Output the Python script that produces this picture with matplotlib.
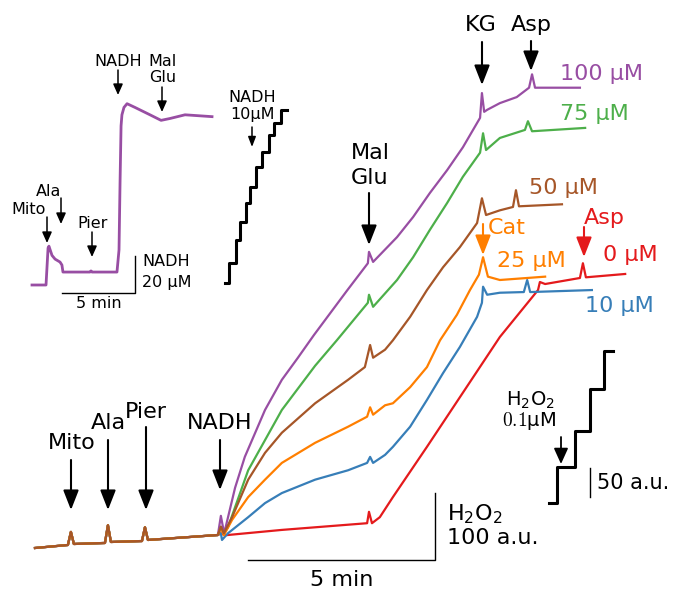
import numpy as np
import matplotlib.pyplot as plt

W, H = 673, 592

# colours of the titration series (Set1)
c_purple, c_green, c_brown = '#984ea3', '#4daf4a', '#a65628'
c_orange, c_blue, c_red = '#ff7f00', '#377eb8', '#e41a1c'

# ---- main H2O2 traces: time (min), signal (a.u.) ----
t_pre = [0.0, 0.88, 0.96, 1.04, 1.87, 1.95, 2.03, 2.86, 2.94, 3.02, 4.89]
s_pre = [0, 4.5, 24, 6, 7.5, 34, 9, 10.4, 31, 12, 19.4]

t_100 = [4.97, 5.05, 5.08, 5.35, 5.61, 6.15, 6.60, 7.03, 7.46, 8.34, 8.90, 8.93,
         9.04, 9.68, 10.11, 10.56, 11.02, 11.44, 11.90, 11.95, 12.01, 12.09,
         12.43, 12.88, 13.21, 13.29, 13.37, 14.57]
s_100 = [48, 24, 27, 90, 136, 206, 251, 284, 318, 384, 425, 442,
         427, 464, 494, 530, 564, 598, 642, 679, 651, 654,
         664, 673, 687, 707, 687, 687]

t_75 = [4.97, 5.05, 5.16, 5.70, 6.15, 6.60, 7.49, 8.07, 8.90, 8.93, 9.04, 9.68,
        10.11, 10.56, 11.02, 11.44, 11.90, 11.98, 12.06, 12.43, 13.10, 13.18,
        13.29, 14.71]
s_75 = [30, 22, 31, 116, 161, 206, 272, 310, 366, 378, 360, 400,
        434, 475, 515, 554, 590, 619, 594, 612, 624, 637,
        622, 627]

t_50 = [4.97, 5.05, 5.27, 5.70, 6.15, 6.60, 7.49, 8.37, 8.82, 8.96, 9.04, 9.36,
        9.57, 10.03, 10.48, 10.91, 11.36, 11.82, 11.95, 12.06, 12.43, 12.78,
        12.86, 12.94, 14.09]
s_50 = [32, 22, 46, 102, 142, 172, 216, 251, 270, 303, 284, 296,
        310, 345, 385, 419, 449, 485, 522, 497, 504, 509,
        534, 510, 513]

t_25 = [4.97, 5.05, 5.27, 5.70, 6.15, 6.60, 7.49, 8.37, 8.88, 8.96, 9.04, 9.36,
        9.57, 10.03, 10.48, 10.83, 11.28, 11.63, 11.87, 11.98, 12.11, 12.43,
        13.64]
s_25 = [30, 19, 42, 76, 102, 127, 157, 181, 196, 210, 199, 213,
        216, 240, 270, 310, 348, 385, 408, 434, 405, 400,
        405]

t_10 = [4.97, 5.00, 5.16, 5.70, 6.15, 6.60, 7.49, 8.37, 8.88, 8.96, 9.04, 9.36,
        9.57, 10.03, 10.48, 10.91, 11.36, 11.82, 11.95, 11.98, 12.09, 12.43,
        13.07, 13.16, 13.24, 14.89]
s_10 = [22, 12, 22, 46, 67, 82, 102, 116, 127, 136, 127, 139,
        151, 181, 221, 261, 300, 345, 366, 390, 378, 381,
        382, 400, 382, 385]

t_0 = [4.97, 5.08, 6.60, 8.88, 8.93, 9.01, 9.22, 9.57, 10.48, 11.36, 12.43,
       13.45, 13.50, 13.64, 14.57, 14.65, 14.73, 15.78]
s_0 = [22, 19, 27, 37, 54, 37, 46, 76, 151, 225, 315,
       385, 397, 394, 403, 425, 404, 409]

# ---- inset: NADH fluorescence, time (min) and NADH (uM) ----
u_nadh = [0, 0.96, 1.10, 1.16, 1.37, 1.58, 1.92, 2.05, 2.12, 3.97, 4.04, 4.11,
          5.82, 5.96, 6.03, 6.10, 6.16, 6.30, 6.51, 7.05, 8.08, 8.84, 9.45,
          10.48, 12.33]
n_nadh = [0, 0, 20, 21, 16, 14, 12.4, 10.8, 7.0, 7.0, 7.6, 7.0,
          7.0, 19, 55, 86, 92, 96, 98, 96, 92, 89, 90, 92, 91]

# NADH calibration, 10 uM additions
u_cal = [13.22, 13.49, 13.97, 14.25, 14.66, 14.93, 15.34, 15.75, 16.23, 16.58,
         17.05, 17.47]
n_cal = [1.1, 11.9, 24.3, 34.1, 44.3, 53.0, 63.8, 71.9, 81.0, 87.6, 94.6, 94.6]

# H2O2 calibration, 0.1 uM additions (a.u.)
t_h2o2 = [13.74, 13.96, 14.44, 14.84, 15.21, 15.45]
h_h2o2 = [0, 62, 124, 197, 262, 262]

fig = plt.figure(figsize=(W / 100, H / 100), dpi=100)


def full_axes(x0, x1, y0, y1):
    a = fig.add_axes([0, 0, 1, 1])
    a.set_xlim(x0, x1)
    a.set_ylim(y0, y1)
    a.axis('off')
    a.patch.set_alpha(0)
    return a


# main axes: 37.4 px per min, 0.67 px per a.u.
ax = full_axes(-35 / 37.4, (W - 35) / 37.4, (548 - H) / 0.67, 548 / 0.67)
series = [(t_0, s_0, c_red), (t_10, s_10, c_blue), (t_100, s_100, c_purple),
          (t_75, s_75, c_green), (t_25, s_25, c_orange), (t_50, s_50, c_brown)]
for tt, ss, cc in series:
    ax.plot(np.r_[t_pre, tt], np.r_[s_pre, ss], color=cc, lw=1.6,
            solid_joinstyle='round')
# scale bars: 5 min, 100 a.u.
ax.plot([5.70, 10.70, 10.70], [-18, -18, 82], color='k', lw=1.0)

# inset axes: 14.6 px per min, 1.85 px per uM
axi = full_axes(-32 / 14.6, (W - 32) / 14.6, (285 - H) / 1.85, 285 / 1.85)
axi.plot(u_nadh, n_nadh, color=c_purple, lw=2.0, solid_joinstyle='round')
axi.plot(u_cal, n_cal, color='k', lw=2.2, drawstyle='steps-post')
axi.plot([2.05, 7.05, 7.05], [-4.3, -4.3, 15.7], color='k', lw=1.0)

# H2O2 calibration axes: 0.58 px per a.u.
axc = full_axes(-35 / 37.4, (W - 35) / 37.4, (503 - H) / 0.58, 503 / 0.58)
axc.plot(t_h2o2, h_h2o2, color='k', lw=2.2, drawstyle='steps-post')
axc.plot([14.84, 14.84], [10, 60], color='k', lw=1.0)

# overlay in pixel coordinates for labels and arrows
ov = full_axes(0, W, H, 0)


def arrow(x, y0, y1, color='k', hl=12, hw=4.7, lw=1.5):
    ov.annotate('', xy=(x, y1), xytext=(x, y0),
                arrowprops=dict(arrowstyle=f'-|>,head_length={hl},head_width={hw}',
                                mutation_scale=1, color=color, lw=lw,
                                shrinkA=0, shrinkB=0))


def label(x, y, s, size=16, color='k', ha='center', **kw):
    ov.text(x, y, s, fontsize=size, color=color, ha=ha, va='center', **kw)


# main figure labels
for x, y, s, ytop, ytip in [(72, 443, 'Mito', 460, 510), (108, 423, 'Ala', 440, 510),
                            (146, 412, 'Pier', 427, 510), (220, 423, 'NADH', 440, 490)]:
    label(x, y, s)
    arrow(x if s != 'Mito' else 71, ytop, ytip)
label(370, 153, 'Mal')
label(370, 178, 'Glu')
arrow(369, 193, 245)
label(481, 25, 'KG')
arrow(482, 42, 85)
label(531, 25, 'Asp')
arrow(531, 41, 71)
label(488, 228, 'Cat', color=c_orange, ha='left')
arrow(483, 224, 255, color=c_orange)
label(604, 218, 'Asp', color=c_red)
arrow(584, 227, 257, color=c_red)

label(560, 74, '100 μM', color=c_purple, ha='left')
label(560, 114, '75 μM', color=c_green, ha='left')
label(529, 188, '50 μM', color=c_brown, ha='left')
label(497, 261, '25 μM', color=c_orange, ha='left')
label(603, 255, '0 μM', color=c_red, ha='left')
label(585, 306, '10 μM', color=c_blue, ha='left')

label(447, 514, r'H$_2$O$_2$', ha='left')
label(447, 538, '100 a.u.', ha='left')
label(342, 580, '5 min')

# H2O2 calibration labels
label(530, 400, r'H$_2$O$_2$', size=14)
label(529, 421, r'$0.1$μM', size=14, math_fontfamily='cm')
arrow(561, 437, 464, hl=9.5, hw=4.3, lw=1.3)
label(597, 483, '50 a.u.', size=15, ha='left')

# inset labels
small = 11.5
label(118, 62, 'NADH', size=small)
arrow(118, 70, 95, hl=6.5, hw=2.9, lw=1.1)
label(163, 61, 'Mal', size=small)
label(163, 78, 'Glu', size=small)
arrow(162, 87, 112, hl=6.5, hw=2.9, lw=1.1)
label(49, 192, 'Ala', size=small)
arrow(61, 198, 224, hl=6.5, hw=2.9, lw=1.1)
label(29, 210, 'Mito', size=small)
arrow(47, 217, 243, hl=6.5, hw=2.9, lw=1.1)
label(93, 224, 'Pier', size=small)
arrow(92, 232, 257, hl=6.5, hw=2.9, lw=1.1)
label(142, 262, 'NADH', size=small, ha='left')
label(142, 282, '20 μM', size=small, ha='left')
label(99, 304, '5 min', size=small)
label(252, 97, 'NADH', size=small)
label(252, 115, '10μM', size=small)
arrow(252, 127, 147, hl=6, hw=2.3, lw=1.1)

fig.savefig('out.png', dpi=100)
